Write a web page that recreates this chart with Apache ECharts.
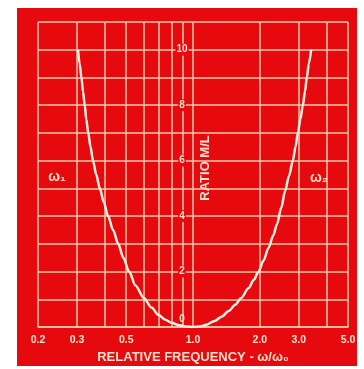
<!DOCTYPE html>
<html>
<head>
<meta charset="utf-8">
<script src="https://cdn.jsdelivr.net/npm/echarts@6/dist/echarts.min.js"></script>
<style>
  html, body { margin: 0; padding: 0; background: #ffffff; }
  #chart { width: 364px; height: 369px; }
</style>
</head>
<body>
<div id="chart"></div>
<script>
// Data
const xGridValues = [0.2, 0.3, 0.4, 0.5, 0.6, 0.7, 0.8, 0.9, 1.0, 2.0, 3.0, 4.0, 5.0];
const xTickLabels = [0.2, 0.3, 0.5, 1.0, 2.0, 3.0, 5.0];
const yTickLabels = [0, 2, 4, 6, 8, 10];
const frequency = [0.303, 0.308, 0.314, 0.319, 0.325, 0.33, 0.337, 0.345, 0.354, 0.366, 0.38, 0.396, 0.414, 0.436, 0.46, 0.485, 0.515, 0.55, 0.6, 0.65, 0.7, 0.75, 0.8, 0.87, 0.94, 1.0, 1.07, 1.15, 1.25, 1.35, 1.45, 1.55, 1.65, 1.78, 1.88, 1.97, 2.08, 2.19, 2.3, 2.39, 2.5, 2.6, 2.71, 2.82, 2.9, 2.97, 3.05, 3.13, 3.2, 3.26, 3.33, 3.41];
const ratio =     [10,    9.5,   9,     8.5,   8,     7.5,  7,     6.5,   6,     5.5,   5,    4.5,   4,     3.5,   3,    2.5,   2,     1.5,  1.05, 0.7,  0.43, 0.26, 0.15, 0.06, 0.02, 0,   0.02, 0.08, 0.22, 0.38, 0.58, 0.8,  1.05, 1.4,  1.7,  1.98, 2.4,  2.85, 3.3, 3.7,  4.3, 4.9, 5.45, 6.0,  6.5, 7.0,  7.5,  8.0,  8.5, 9.0,  9.5,  10];

const RED = '#e60a0f';
const LINE = '#f7c9ab';
const TEXT = '#fbe3cf';
const FONT = '"Liberation Sans", "DejaVu Sans", sans-serif';

const chart = echarts.init(document.getElementById('chart'), null, { renderer: 'canvas' });
const option = {
  backgroundColor: '#ffffff',
  animation: false,
  grid: { left: 38, top: 22, right: 16, bottom: 41, show: false },
  graphic: [
    { type: 'rect', z: -10, shape: { x: 17, y: 8, width: 340, height: 358 }, style: { fill: RED } },
    { type: 'text', x: 57, y: 177, z: 10, style: { text: 'ω₁', fill: TEXT, font: 'bold 14px ' + FONT, align: 'center', verticalAlign: 'middle' } },
    { type: 'text', x: 319, y: 178, z: 10, style: { text: 'ω₂', fill: TEXT, font: 'bold 14px ' + FONT, align: 'center', verticalAlign: 'middle' } },
    { type: 'text', x: 205, y: 168, rotation: Math.PI / 2, z: 10, style: { text: 'RATIO M/L', fill: TEXT, font: 'bold 13px ' + FONT, align: 'center', verticalAlign: 'middle' } }
  ],
  xAxis: {
    type: 'log',
    logBase: 10,
    min: 0.2,
    max: 5,
    name: 'RELATIVE FREQUENCY - ω/ω₀',
    nameLocation: 'middle',
    nameGap: 24,
    nameTextStyle: { color: TEXT, fontSize: 13, fontWeight: 'bold', fontFamily: FONT },
    axisLine: { show: true, lineStyle: { color: LINE, width: 1.5 } },
    axisTick: { show: false, customValues: xGridValues },
    splitLine: { show: true, lineStyle: { color: LINE, width: 1.5 } },
    axisLabel: {
      customValues: xTickLabels,
      color: TEXT,
      fontSize: 10.5,
      fontWeight: 'bold',
      fontFamily: FONT,
      margin: 8,
      formatter: v => Number(v).toFixed(1)
    }
  },
  yAxis: {
    type: 'value',
    min: 0,
    max: 11,
    interval: 1,
    offset: -144,
    axisLine: { show: false },
    axisTick: { show: false },
    splitLine: { show: true, lineStyle: { color: LINE, width: 1.5 } },
    z: 1,
    axisLabel: {
      margin: 0,
      align: 'center',
      color: TEXT,
      fontSize: 10,
      fontWeight: 'bold',
      fontFamily: FONT,
      formatter: v => {
        if (!yTickLabels.includes(v)) return '';
        if (v === 0) return '{z|0}';
        return '{n|' + v + '}';
      },
      rich: {
        n: { color: TEXT, fontSize: 10, fontWeight: 'bold', fontFamily: FONT, backgroundColor: RED, padding: [1, 1] },
        z: { color: TEXT, fontSize: 10, fontWeight: 'bold', fontFamily: FONT, padding: [0, 1, 16, 1] }
      }
    }
  },
  series: [{
    type: 'line',
    data: frequency.map((f, i) => [f, ratio[i]]),
    smooth: 0.3,
    smoothMonotone: 'x',
    showSymbol: false,
    z: 3,
    lineStyle: { color: '#fdf1e4', width: 2.5 }
  }]
};
chart.setOption(option);
</script>
</body>
</html>
